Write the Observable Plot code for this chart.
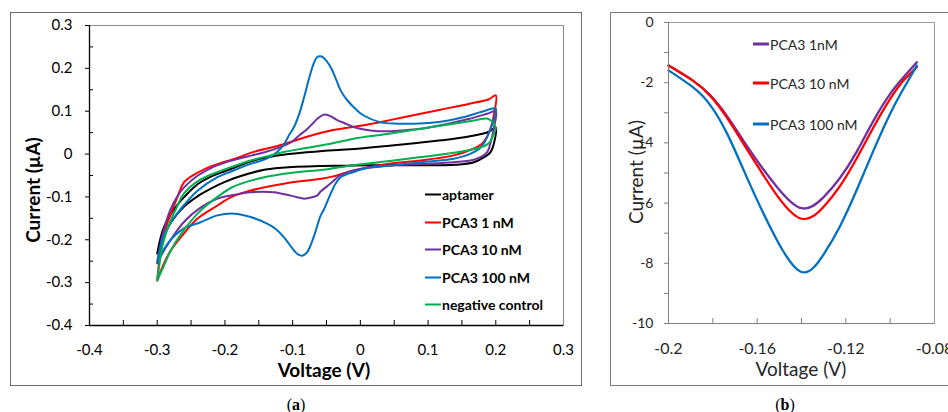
<!DOCTYPE html>
<html><head><meta charset="utf-8">
<script src="https://cdn.jsdelivr.net/npm/d3@7"></script>
<script src="https://cdn.jsdelivr.net/npm/@observablehq/plot@0.6"></script>
<style>
html,body{margin:0;padding:0;background:#fff;}
body{width:948px;height:412px;overflow:hidden;position:relative;font-family:Lato,"Open Sans",sans-serif;}
.box{position:absolute;box-sizing:border-box;border:1px solid #6b6b6b;background:#fff;}
.abs{position:absolute;white-space:nowrap;}
.ytitle{transform:translate(-50%,-50%) rotate(-90deg);}
.xtitle{transform:translate(-50%,-50%);}
.cap{position:absolute;transform:translate(-50%,-50%);font-family:"Liberation Serif",serif;font-size:16px;color:#000;}
.leg{position:absolute;display:flex;align-items:center;white-space:nowrap;transform:translateY(-50%);}
.leg span.sw{display:inline-block;width:16px;height:2px;margin-right:1px;}
</style></head><body>
<div id="boxA" class="box" style="left:10px;top:12px;width:572px;height:374px"></div>
<div id="boxB" class="box" style="left:610px;top:12px;width:360px;height:374px;border-color:#7a7a7a"></div>
<div id="overlay"></div>
<script>
// ---------- Panel (a): cyclic voltammograms ----------
const seriesA = ["aptamer", "PCA3 1 nM", "PCA3 10 nM", "PCA3 100 nM", "negative control"];
const colorsA = ["#000000", "#FF0000", "#7030A0", "#0070C0", "#00B050"];

const aptamerV = [-0.3,-0.295,-0.29,-0.28,-0.27,-0.26,-0.24,-0.22,-0.2,-0.18,-0.16,-0.12,-0.08,-0.04,0,0.04,0.08,0.12,0.16,0.19,0.2,
  0.198,0.192,0.183,0.168,0.14,0.1,0.06,0.02,-0.02,-0.06,-0.1,-0.14,-0.18,-0.2,-0.22,-0.24,-0.26,-0.28,-0.29,-0.3];
const aptamerI = [-0.232,-0.195,-0.17,-0.14,-0.118,-0.1,-0.07,-0.052,-0.04,-0.028,-0.016,-0.003,0.004,0.009,0.013,0.019,0.025,0.032,0.041,0.052,0.062,
  0.03,0.004,-0.007,-0.019,-0.025,-0.026,-0.026,-0.026,-0.027,-0.028,-0.03,-0.036,-0.053,-0.065,-0.08,-0.098,-0.122,-0.16,-0.19,-0.232];

const pca1V = [-0.3,-0.297,-0.293,-0.288,-0.28,-0.27,-0.26,-0.24,-0.22,-0.2,-0.18,-0.16,-0.12,-0.08,-0.04,0,0.04,0.08,0.12,0.16,0.19,0.2,
  0.197,0.19,0.18,0.163,0.138,0.089,0.04,-0.01,-0.04,-0.06,-0.113,-0.162,-0.19,-0.211,-0.24,-0.261,-0.28,-0.29,-0.3];
const pca1I = [-0.295,-0.25,-0.21,-0.175,-0.14,-0.1,-0.065,-0.043,-0.028,-0.018,-0.008,0.004,0.02,0.04,0.056,0.066,0.078,0.091,0.104,0.117,0.128,0.137,
  0.09,0.05,0.025,0.01,-0.003,-0.015,-0.023,-0.038,-0.052,-0.058,-0.069,-0.085,-0.1,-0.12,-0.15,-0.186,-0.225,-0.255,-0.295];

const pca10V = [-0.3,-0.295,-0.29,-0.28,-0.27,-0.26,-0.24,-0.22,-0.2,-0.18,-0.16,-0.14,-0.12,-0.1,-0.09,-0.08,-0.07,-0.064,-0.054,-0.045,-0.035,-0.02,-0.01,0.015,0.04,0.06,0.089,0.12,0.138,0.16,0.187,0.2,
  0.197,0.192,0.187,0.17,0.138,0.089,0.04,-0.01,-0.03,-0.045,-0.059,-0.064,-0.075,-0.083,-0.095,-0.103,-0.128,-0.162,-0.186,-0.211,-0.236,-0.261,-0.28,-0.29,-0.3];
const pca10I = [-0.255,-0.21,-0.175,-0.128,-0.098,-0.077,-0.05,-0.032,-0.02,-0.011,-0.003,0.005,0.015,0.03,0.044,0.056,0.072,0.082,0.092,0.089,0.08,0.07,0.063,0.055,0.053,0.055,0.059,0.068,0.074,0.082,0.094,0.1,
  0.06,0.025,0.004,-0.012,-0.019,-0.023,-0.027,-0.038,-0.05,-0.07,-0.088,-0.097,-0.102,-0.104,-0.1,-0.097,-0.089,-0.089,-0.095,-0.104,-0.125,-0.159,-0.2,-0.225,-0.255];

const pca100V = [-0.3,-0.295,-0.29,-0.28,-0.27,-0.261,-0.24,-0.211,-0.19,-0.162,-0.14,-0.123,-0.113,-0.105,-0.098,-0.09,-0.083,-0.076,-0.069,-0.064,-0.059,-0.054,-0.044,-0.036,-0.029,-0.019,-0.005,0.005,0.03,0.055,0.079,0.105,0.128,0.155,0.178,0.2,
  0.198,0.195,0.187,0.178,0.163,0.138,0.089,0.04,0.015,-0.01,-0.029,-0.037,-0.044,-0.054,-0.059,-0.069,-0.079,-0.086,-0.092,-0.098,-0.113,-0.125,-0.137,-0.162,-0.186,-0.211,-0.236,-0.261,-0.28,-0.29,-0.3];
const pca100I = [-0.252,-0.215,-0.19,-0.16,-0.138,-0.12,-0.085,-0.054,-0.04,-0.023,-0.012,0.005,0.022,0.045,0.063,0.095,0.133,0.175,0.211,0.226,0.228,0.224,0.203,0.175,0.148,0.125,0.102,0.09,0.074,0.071,0.071,0.073,0.078,0.087,0.098,0.106,
  0.085,0.071,0.039,0.016,0.001,-0.011,-0.019,-0.027,-0.031,-0.042,-0.054,-0.07,-0.093,-0.13,-0.145,-0.194,-0.23,-0.237,-0.234,-0.225,-0.194,-0.175,-0.163,-0.147,-0.139,-0.143,-0.159,-0.174,-0.2,-0.222,-0.252];

const negV = [-0.3,-0.297,-0.293,-0.288,-0.28,-0.27,-0.261,-0.24,-0.211,-0.19,-0.162,-0.14,-0.113,-0.08,-0.044,-0.01,0.04,0.089,0.138,0.17,0.187,0.195,0.2,
  0.197,0.192,0.187,0.178,0.163,0.138,0.089,0.04,-0.01,-0.044,-0.059,-0.113,-0.162,-0.19,-0.211,-0.236,-0.261,-0.28,-0.29,-0.3];
const negI = [-0.295,-0.26,-0.22,-0.19,-0.155,-0.12,-0.093,-0.063,-0.042,-0.03,-0.015,-0.006,0.005,0.014,0.024,0.036,0.047,0.059,0.071,0.079,0.083,0.075,0.06,
  0.047,0.03,0.022,0.016,0.01,0.003,-0.007,-0.017,-0.026,-0.034,-0.037,-0.046,-0.062,-0.078,-0.1,-0.132,-0.178,-0.225,-0.26,-0.295];

const xTicksA = [-0.4,-0.3,-0.2,-0.1,0,0.1,0.2,0.3];
const yTicksA = [0.3,0.2,0.1,0,-0.1,-0.2,-0.3,-0.4];
const xMinorA = [-0.35,-0.3,-0.25,-0.2,-0.15,-0.1,-0.05,0,0.05,0.1,0.15,0.2,0.25];
const yMinorA = [0.25,0.15,0.05,-0.05,-0.15,-0.25,-0.35];

// ---------- Panel (b): DPV ----------
const seriesB = ["PCA3 1nM", "PCA3 10 nM", "PCA3 100 nM"];
const colorsB = ["#7030A0", "#FF0000", "#0070C0"];
const voltB = [-0.2,-0.189,-0.181,-0.1735,-0.166,-0.1585,-0.151,-0.14,-0.13,-0.1225,-0.115,-0.1075,-0.1,-0.094,-0.088];
const pca1B = [-1.43,-1.93,-2.43,-3.12,-3.95,-4.75,-5.47,-6.17,-5.8,-5.15,-4.28,-3.26,-2.37,-1.82,-1.32];
const pca10B = [-1.43,-1.93,-2.45,-3.18,-4.05,-4.92,-5.75,-6.52,-6.12,-5.42,-4.5,-3.48,-2.54,-1.93,-1.48];
const pca100B = [-1.59,-2.15,-2.76,-3.70,-4.92,-6.14,-7.24,-8.29,-7.7,-6.75,-5.55,-4.25,-3.03,-2.20,-1.43];
const xTicksB = [-0.2,-0.16,-0.12,-0.08];
const xMinorB = [-0.18,-0.16,-0.14,-0.12,-0.1];
const yTicksB = [0,-2,-4,-6,-8,-10];
const yMinorB = [0,-1,-2,-3,-4,-5,-6,-7,-8,-9,-10];

// ---------- build ----------
const rowsA = [];
[[aptamerV,aptamerI],[pca1V,pca1I],[pca10V,pca10I],[pca100V,pca100I],[negV,negI]].forEach(([V,I],k)=>{
  V.forEach((v,j)=>rowsA.push({s:seriesA[k], v, i:I[j]}));
});
const rowsB = [];
[pca1B,pca10B,pca100B].forEach((I,k)=>I.forEach((i,j)=>rowsB.push({s:seriesB[k], v:voltB[j], i})));

const fmt = d => String(+d.toFixed(3));

// Panel A geometry
const WA = 570, HA = 372, mLA = 78, mTA = 12, mRA = 18, mBA = 60;
const innerWA = WA - mLA - mRA, innerHA = HA - mTA - mBA;
const plotA = Plot.plot({
  width: WA, height: HA, marginLeft: mLA, marginTop: mTA, marginRight: mRA, marginBottom: mBA,
  style: {fontFamily: "Lato", fontSize: "15px", color: "#000", background: "transparent", overflow: "visible"},
  x: {domain: [-0.4, 0.3]},
  y: {domain: [-0.4, 0.3]},
  color: {domain: seriesA, range: colorsA},
  marks: [
    Plot.frame({stroke: "#8a8a8a", strokeWidth: 1}),
    Plot.line(rowsA, {x: "v", y: "i", z: "s", stroke: "s", strokeWidth: 2, curve: "catmull-rom"}),
    Plot.ruleX([-0.4], {stroke: "#000", strokeWidth: 1.3}),
    Plot.ruleY([-0.4], {stroke: "#000", strokeWidth: 1.3}),
    Plot.tickY(yMinorA, {y: d => d, insetRight: innerWA - 4, stroke: "#000"}),
    Plot.tickX(xMinorA, {x: d => d, insetTop: innerHA - 5, stroke: "#000"}),
    Plot.axisY({ticks: yTicksA, tickSize: 4, tickPadding: 13, tickFormat: fmt, label: null, fontSize: 15}),
    Plot.axisX({ticks: xTicksA, tickSize: 0, tickPadding: 19, tickFormat: fmt, label: null, fontSize: 15})
  ]
});
plotA.style.position = "absolute"; plotA.style.left = "0px"; plotA.style.top = "0px";
document.getElementById("boxA").appendChild(plotA);

// Panel B geometry
const WB = 358, HB = 372, mLB = 57, mTB = 9, mRB = 35, mBB = 62;
const innerWB = WB - mLB - mRB, innerHB = HB - mTB - mBB;
const plotB = Plot.plot({
  width: WB, height: HB, marginLeft: mLB, marginTop: mTB, marginRight: mRB, marginBottom: mBB,
  style: {fontFamily: "Lato", fontSize: "14px", color: "#262626", background: "transparent", overflow: "visible"},
  x: {domain: [-0.2, -0.08]},
  y: {domain: [-10, 0]},
  color: {domain: seriesB, range: colorsB},
  marks: [
    Plot.frame({stroke: "#9a9a9a", strokeWidth: 1}),
    Plot.line(rowsB, {x: "v", y: "i", z: "s", stroke: "s", strokeWidth: 2.3, curve: "natural"}),
    Plot.ruleX([-0.2], {stroke: "#7f7f7f"}),
    Plot.ruleY([-10], {stroke: "#7f7f7f"}),
    Plot.tickX(xMinorB, {x: d => d, insetTop: innerHB - 5, stroke: "#7f7f7f"}),
    Plot.axisY({ticks: yMinorB, tickSize: 4, tickFormat: () => "", label: null, stroke: "#7f7f7f"}),
    Plot.axisY({ticks: yTicksB, tickSize: 0, tickPadding: 15, tickFormat: fmt, label: null, fontSize: 14}),
    Plot.axisX({ticks: xTicksB, tickSize: 0, tickPadding: 19, tickFormat: fmt, label: null, fontSize: 16})
  ]
});
plotB.style.position = "absolute"; plotB.style.left = "0px"; plotB.style.top = "0px";
document.getElementById("boxB").appendChild(plotB);

// Titles, legends, captions (HTML text)
const ov = document.getElementById("overlay");
function addText(html, cls, x, y, style) {
  const d = document.createElement("div");
  d.className = cls; d.innerHTML = html;
  d.style.left = x + "px"; d.style.top = y + "px";
  Object.assign(d.style, style || {});
  ov.appendChild(d); return d;
}
addText("Current (µA)", "abs ytitle", 32, 190, {fontWeight: "700", fontSize: "19px", color: "#000"});
addText("Voltage (V)", "abs xtitle", 324, 369, {fontWeight: "700", fontSize: "19px", color: "#000"});
addText("Current (µA)", "abs ytitle", 635, 172, {fontSize: "19px", color: "#262626"});
addText("Voltage (V)", "abs xtitle", 801, 368, {fontSize: "19px", color: "#262626"});
addText("(<b>a</b>)", "cap", 296, 405);
addText("(<b>b</b>)", "cap", 785, 405);

const legYA = [194, 222, 249, 277, 304];
seriesA.forEach((s, k) => {
  const d = document.createElement("div");
  d.className = "leg";
  d.style.left = "425px"; d.style.top = legYA[k] + "px";
  d.style.fontWeight = "700"; d.style.fontSize = "14px"; d.style.color = "#000";
  d.innerHTML = `<span class="sw" style="background:${colorsA[k]}"></span>${s}`;
  ov.appendChild(d);
});
const legYB = [44, 83, 124];
seriesB.forEach((s, k) => {
  const d = document.createElement("div");
  d.className = "leg";
  d.style.left = "753px"; d.style.top = legYB[k] + "px";
  d.style.fontSize = "14px"; d.style.color = "#262626";
  d.innerHTML = `<span class="sw" style="background:${colorsB[k]};height:3px"></span>${s}`;
  ov.appendChild(d);
});
</script>
</body></html>
